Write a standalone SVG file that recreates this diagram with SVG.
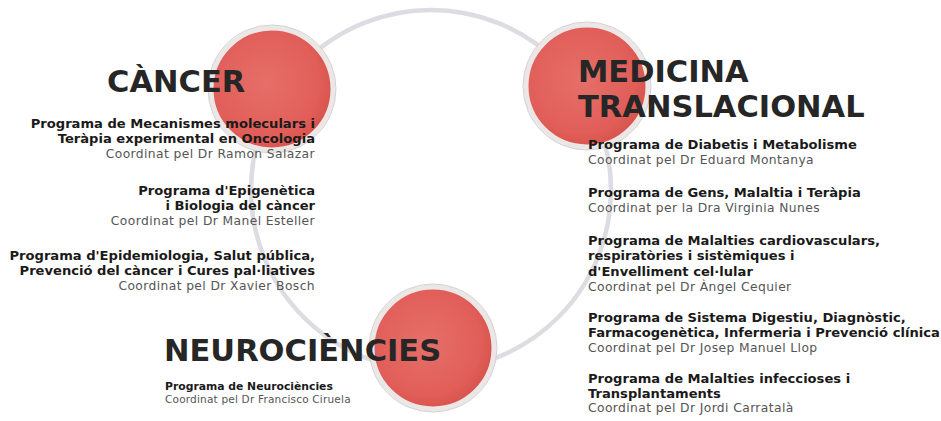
<svg xmlns="http://www.w3.org/2000/svg" width="941" height="421" viewBox="0 0 941 421">
<style>
.ring{fill:none;stroke:#dcdce2;stroke-width:4.5}
.halo{fill:none;stroke:#cfd3cf;stroke-width:1}
.title{font-family:"DejaVu Sans",Verdana,sans-serif;font-weight:bold;font-size:30.5px;fill:#262626}
.b{font-family:"DejaVu Sans",Verdana,sans-serif;font-weight:bold;font-size:13.1px;fill:#1a1a1a}
.c{font-family:"DejaVu Sans",Verdana,sans-serif;font-size:12.3px;letter-spacing:0.4px;fill:#555}
.end{text-anchor:end}
</style>
<defs>
<radialGradient id="red" cx="0.45" cy="0.45" r="0.55">
<stop offset="0" stop-color="#e66f69"/>
<stop offset="0.8" stop-color="#e15e59"/>
<stop offset="1" stop-color="#d8544d"/>
</radialGradient>
</defs>
<g id="connectors">
<circle class="ring" cx="431" cy="190" r="180"/>
</g>
<g id="node-cancer">
<circle cx="272" cy="89" r="61" fill="url(#red)" stroke="#ede6e6" stroke-width="5"/>
<circle class="halo" cx="272" cy="89" r="64"/>
<text class="title" x="107" y="92">CÀNCER</text>
<text class="b end" x="315" y="128">Programa de Mecanismes moleculars i</text>
<text class="b end" x="315" y="143">Teràpia experimental en Oncologia</text>
<text class="c end" x="315" y="158">Coordinat pel Dr Ramon Salazar</text>
<text class="b end" x="315" y="195">Programa d'Epigenètica</text>
<text class="b end" x="315" y="210">i Biologia del càncer</text>
<text class="c end" x="315" y="225">Coordinat pel Dr Manel Esteller</text>
<text class="b end" x="315" y="260">Programa d'Epidemiologia, Salut pública,</text>
<text class="b end" x="315" y="275">Prevenció del càncer i Cures pal·liatives</text>
<text class="c end" x="315" y="290">Coordinat pel Dr Xavier Bosch</text>
</g>
<g id="node-medicina">
<circle cx="587" cy="86" r="61" fill="url(#red)" stroke="#ede6e6" stroke-width="5"/>
<circle class="halo" cx="587" cy="86" r="64"/>
<text class="title" x="578" y="82">MEDICINA</text>
<text class="title" x="578" y="117">TRANSLACIONAL</text>
<text class="b" x="588" y="149">Programa de Diabetis i Metabolisme</text>
<text class="c" x="588" y="164">Coordinat pel Dr Eduard Montanya</text>
<text class="b" x="588" y="197">Programa de Gens, Malaltia i Teràpia</text>
<text class="c" x="588" y="212">Coordinat per la Dra Virginia Nunes</text>
<text class="b" x="588" y="245">Programa de Malalties cardiovasculars,</text>
<text class="b" x="588" y="260">respiratòries i sistèmiques i</text>
<text class="b" x="588" y="276">d'Envelliment cel·lular</text>
<text class="c" x="588" y="291">Coordinat pel Dr Àngel Cequier</text>
<text class="b" x="588" y="322">Programa de Sistema Digestiu, Diagnòstic,</text>
<text class="b" x="588" y="337">Farmacogenètica, Infermeria i Prevenció clínica</text>
<text class="c" x="588" y="352">Coordinat pel Dr Josep Manuel Llop</text>
<text class="b" x="588" y="383">Programa de Malalties infeccioses i</text>
<text class="b" x="588" y="398">Transplantaments</text>
<text class="c" x="588" y="412">Coordinat pel Dr Jordi Carratalà</text>
</g>
<g id="node-neuro">
<circle cx="433" cy="348" r="61" fill="url(#red)" stroke="#ede6e6" stroke-width="5"/>
<circle class="halo" cx="433" cy="348" r="64"/>
<text class="title" x="164" y="361">NEUROCIÈNCIES</text>
<text class="b" x="165" y="390" style="font-size:10.8px">Programa de Neurociències</text>
<text class="c" x="165" y="403" style="font-size:10.5px;letter-spacing:0.2px">Coordinat pel Dr Francisco Ciruela</text>
</g>
</svg>
